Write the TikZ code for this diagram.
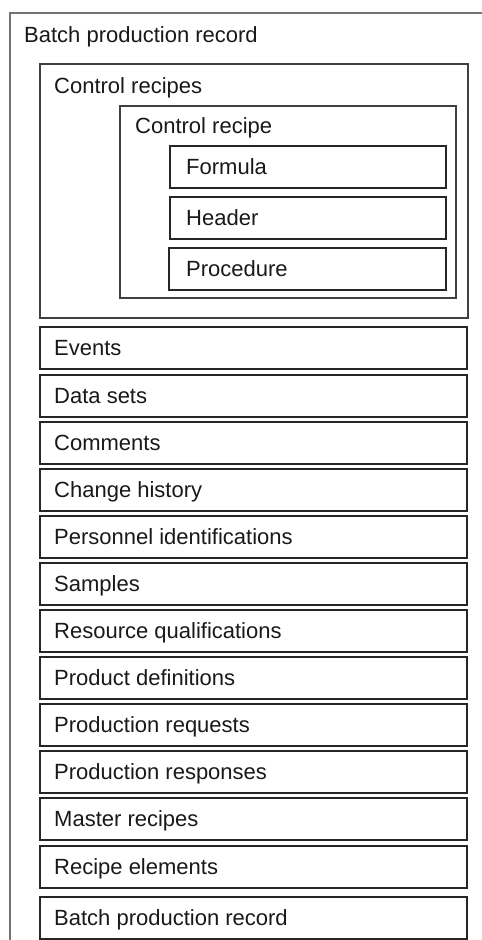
\documentclass[tikz,border=0pt]{standalone}
\usepackage{fontspec}
\setmainfont{Liberation Sans}
\begin{document}
\begin{tikzpicture}[x=1pt,y=-1pt,
  frame/.style={draw=black!55, line width=2.4pt},
  group/.style={draw=black!75, line width=1.8pt, rectangle, anchor=north west, inner sep=0pt, outer sep=0pt},
  entry/.style={draw=black!85, line width=1.7pt, rectangle, anchor=north west, inner sep=0pt, outer sep=0pt,
                minimum width=427pt, minimum height=42pt},
  sub/.style={entry, minimum width=276pt},
  lbl/.style={anchor=west, inner sep=0pt, text height=15.7pt, text depth=0pt,
              font=\fontsize{22}{26}\selectfont, text=black!90},
  title/.style={anchor=base west, inner sep=0pt, font=\fontsize{22}{26}\selectfont, text=black!90}
]
\useasboundingbox (0,0) rectangle (482,940);
\clip (0,0) rectangle (482,940);
\fill[white] (0,0) rectangle (482,940);

% outer record frame, running past the right and bottom edges
\draw[frame] (10,13) rectangle (500,960);
\node[title] (rec) at (24,42) {Batch production record};

% control recipes group
\node[group, minimum width=428pt, minimum height=254pt] (crs) at (40,64) {};
\node[title] (crsl) at (54,93) {Control recipes};
\node[group, minimum width=336pt, minimum height=192pt] (cr) at (120,106) {};
\node[title] (crl) at (135,133) {Control recipe};

\node[sub] (formula) at (170,146) {};
\node[lbl] at ([xshift=16pt]formula.west) {Formula};
\node[sub] (header) at (170,197) {};
\node[lbl] at ([xshift=16pt]header.west) {Header};
\node[sub, minimum width=277pt] (proc) at (169,248) {};
\node[lbl] at ([xshift=17pt]proc.west) {Procedure};

% list of record entries
\foreach \nm/\y/\txt in {
  ev/327/Events,
  ds/375/Data sets,
  cm/422/Comments,
  ch/469/Change history,
  pi/516/Personnel identifications,
  sm/563/Samples,
  rq/610/Resource qualifications,
  pd/657/Product definitions,
  prq/704/Production requests,
  prs/751/Production responses,
  mr/798/Master recipes,
  re/846/Recipe elements,
  bpr/897/Batch production record}
{
  \node[entry] (\nm) at (40,\y) {};
  \node[lbl] at ([xshift=14pt]\nm.west) {\txt};
}
\end{tikzpicture}
\end{document}
